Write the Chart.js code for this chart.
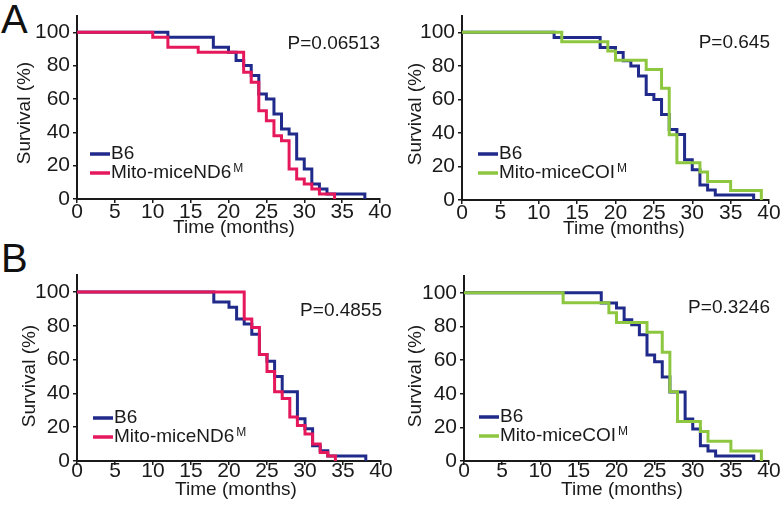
<!DOCTYPE html>
<html>
<head>
<meta charset="utf-8">
<script src="https://cdn.jsdelivr.net/npm/chart.js@4.4.1/dist/chart.umd.min.js"></script>
<style>
  body { margin: 0; background: #fff; width: 784px; height: 517px; position: relative; overflow: hidden;
         font-family: "Liberation Sans", Arial, sans-serif; }
  .panel { position: absolute; width: 392px; height: 259px; }
  .letter { position: absolute; font-size: 40px; line-height: 1; color: #111; }
</style>
</head>
<body>
<div class="letter" style="left:1px;top:-1px">A</div>
<div class="letter" style="left:1px;top:238px">B</div>
<div class="panel" style="left:0;top:0"><canvas id="a1" width="392" height="258"></canvas></div>
<div class="panel" style="left:392px;top:0"><canvas id="a2" width="392" height="258"></canvas></div>
<div class="panel" style="left:0;top:258px"><canvas id="b1" width="392" height="259"></canvas></div>
<div class="panel" style="left:392px;top:258px"><canvas id="b2" width="392" height="259"></canvas></div>
<script>
// Kaplan-Meier step data (time in months, survival in %)
const b6TimesA = [0, 12, 18, 20, 21, 22, 23, 24, 25, 26, 27, 28, 29, 30, 31, 32, 33, 38];
const b6SurvA  = [100, 97, 91, 88, 83, 80, 74, 63, 60, 51, 42, 39, 24, 18, 9, 6, 3, 0];

const nd6TimesA = [0, 10, 12, 16, 22, 23, 24, 25, 26, 27, 28, 29, 30, 31, 32, 34];
const nd6SurvA  = [100, 97, 91, 88, 76, 70, 53, 47, 38, 35, 18, 12, 9, 6, 3, 0];

const coiTimesA = [0, 13, 19, 20, 24, 26, 27, 28, 31, 32, 35, 39];
const coiSurvA  = [100, 94.4, 88.9, 83.3, 77.8, 66.7, 38.9, 22.2, 16.7, 11.1, 5.6, 0];

const b6TimesB = [0, 18, 20, 21, 22, 23, 24, 25, 26, 27, 29, 30, 31, 32, 33, 38];
const b6SurvB  = [100, 94, 91, 84, 81, 75, 63, 59, 50, 41, 25, 19, 9, 6, 3, 0];

const nd6TimesB = [0, 22, 23, 24, 25, 26, 27, 28, 29, 30, 31, 32, 33, 34];
const nd6SurvB  = [100, 84, 79, 63, 53, 41, 37, 26, 21, 16, 10, 5, 3, 0];

const coiTimesB = [0, 13, 19, 20, 24, 26, 27, 28, 31, 32, 35, 39];
const coiSurvB  = [100, 94.1, 88.2, 82.4, 76.5, 64.7, 41.2, 23.5, 17.6, 11.8, 5.9, 0];

const xTicks = [0, 5, 10, 15, 20, 25, 30, 35, 40];
const yTicks = [0, 20, 40, 60, 80, 100];

const pValues = ['P=0.06513', 'P=0.645', 'P=0.4855', 'P=0.3246'];

const blue = '#1f2a8a';
const red = '#e6185c';
const green = '#8dc63f';
const ink = '#1a1a1a';
const FONT = '"Liberation Sans", Arial, sans-serif';

function kmPoints(times, surv) {
    return times.map((t, i) => ({ x: t, y: surv[i] }));
}

// draws axis titles, legend with superscript and the P value
const kmExtras = {
    id: 'kmExtras',
    afterDraw(chart, args, o) {
        const ctx = chart.ctx;
        const a = chart.chartArea;
        ctx.save();
        ctx.fillStyle = ink;
        ctx.font = '19px ' + FONT;

        // x title
        ctx.textAlign = 'center';
        ctx.textBaseline = 'alphabetic';
        ctx.fillText('Time (months)', o.xTitleX, a.bottom + 34);

        // y title
        ctx.save();
        ctx.translate(o.yTitleX, o.yTitleY);
        ctx.rotate(-Math.PI / 2);
        ctx.textBaseline = 'middle';
        ctx.fillText('Survival (%)', 0, 0);
        ctx.restore();

        // P value
        ctx.textAlign = 'right';
        ctx.textBaseline = 'middle';
        ctx.fillText(o.pText, o.pX, o.pY);

        // legend
        ctx.textAlign = 'left';
        o.legend.forEach((item, i) => {
            const y = o.legY + i * 19;
            ctx.strokeStyle = item.color;
            ctx.lineWidth = 3.5;
            ctx.beginPath();
            ctx.moveTo(o.legX, y);
            ctx.lineTo(o.legX + 20, y);
            ctx.stroke();
            ctx.font = '19px ' + FONT;
            ctx.textBaseline = 'middle';
            ctx.fillText(item.label, o.legX + 21, y);
            if (item.sup) {
                const w = ctx.measureText(item.label).width;
                ctx.font = '12px ' + FONT;
                ctx.textBaseline = 'alphabetic';
                ctx.fillText(item.sup, o.legX + 23 + w, y - 1);
            }
        });
        ctx.restore();
    }
};

function makePanel(id, box, series, extras) {
    const canvas = document.getElementById(id);
    const W = canvas.width, H = canvas.height;
    new Chart(canvas, {
        type: 'line',
        data: {
            datasets: series.map(s => ({
                label: s.label,
                data: kmPoints(s.times, s.surv),
                borderColor: s.color,
                borderWidth: 3,
                stepped: true,
                pointRadius: 0,
                fill: false,
                order: s.order
            }))
        },
        options: {
            responsive: false,
            animation: false,
            devicePixelRatio: 1,
            layout: { padding: { left: 0, right: W - box.right, top: box.top, bottom: 0 } },
            scales: {
                x: {
                    type: 'linear', min: 0, max: 40,
                    afterFit(s) { s.height = H - box.bottom; },
                    afterBuildTicks(s) { s.ticks = xTicks.map(v => ({ value: v })); },
                    ticks: { color: ink, font: { size: 21, family: FONT, lineHeight: 1 }, padding: box.labelGap, maxRotation: 0 },
                    grid: { drawOnChartArea: false, drawTicks: true, tickLength: 4, color: ink, lineWidth: 1.5 },
                    border: { color: ink, width: 2 }
                },
                y: {
                    min: 0, max: 110,
                    afterFit(s) { s.width = box.left; },
                    afterBuildTicks(s) { s.ticks = yTicks.map(v => ({ value: v })); },
                    ticks: { color: ink, font: { size: 21, family: FONT }, padding: 3 },
                    grid: { drawOnChartArea: false, drawTicks: true, tickLength: 4, color: ink, lineWidth: 1.5 },
                    border: { color: ink, width: 2 }
                }
            },
            plugins: {
                legend: { display: false },
                tooltip: { enabled: false },
                kmExtras: extras
            }
        },
        plugins: [kmExtras]
    });
}

makePanel('a1', { left: 77, right: 380, top: 12, bottom: 199, labelGap: -1 }, [
    { label: 'B6', times: b6TimesA, surv: b6SurvA, color: blue, order: 1 },
    { label: 'Mito-miceND6M', times: nd6TimesA, surv: nd6SurvA, color: red, order: 0 }
], {
    xTitleX: 234, yTitleX: 25, yTitleY: 113, pText: pValues[0], pX: 380, pY: 44,
    legX: 90, legY: 154,
    legend: [{ label: 'B6', color: blue }, { label: 'Mito-miceND6', sup: 'M', color: red }]
});

makePanel('a2', { left: 70, right: 377, top: 13, bottom: 200, labelGap: -1 }, [
    { label: 'B6', times: b6TimesA, surv: b6SurvA, color: blue, order: 1 },
    { label: 'Mito-miceCOIM', times: coiTimesA, surv: coiSurvA, color: green, order: 0 }
], {
    xTitleX: 232, yTitleX: 24, yTitleY: 114, pText: pValues[1], pX: 378, pY: 43,
    legX: 86, legY: 154,
    legend: [{ label: 'B6', color: blue }, { label: 'Mito-miceCOI', sup: 'M', color: green }]
});

makePanel('b1', { left: 77, right: 381, top: 17, bottom: 203, labelGap: -4 }, [
    { label: 'B6', times: b6TimesB, surv: b6SurvB, color: blue, order: 1 },
    { label: 'Mito-miceND6M', times: nd6TimesB, surv: nd6SurvB, color: red, order: 0 }
], {
    xTitleX: 236, yTitleX: 30, yTitleY: 118, pText: pValues[2], pX: 382, pY: 53,
    legX: 93, legY: 160,
    legend: [{ label: 'B6', color: blue }, { label: 'Mito-miceND6', sup: 'M', color: red }]
});

makePanel('b2', { left: 72, right: 377, top: 18, bottom: 203, labelGap: -4 }, [
    { label: 'B6', times: b6TimesB, surv: b6SurvB, color: blue, order: 1 },
    { label: 'Mito-miceCOIM', times: coiTimesB, surv: coiSurvB, color: green, order: 0 }
], {
    xTitleX: 230, yTitleX: 24, yTitleY: 118, pText: pValues[3], pX: 378, pY: 50,
    legX: 87, legY: 159,
    legend: [{ label: 'B6', color: blue }, { label: 'Mito-miceCOI', sup: 'M', color: green }]
});
</script>
</body>
</html>
